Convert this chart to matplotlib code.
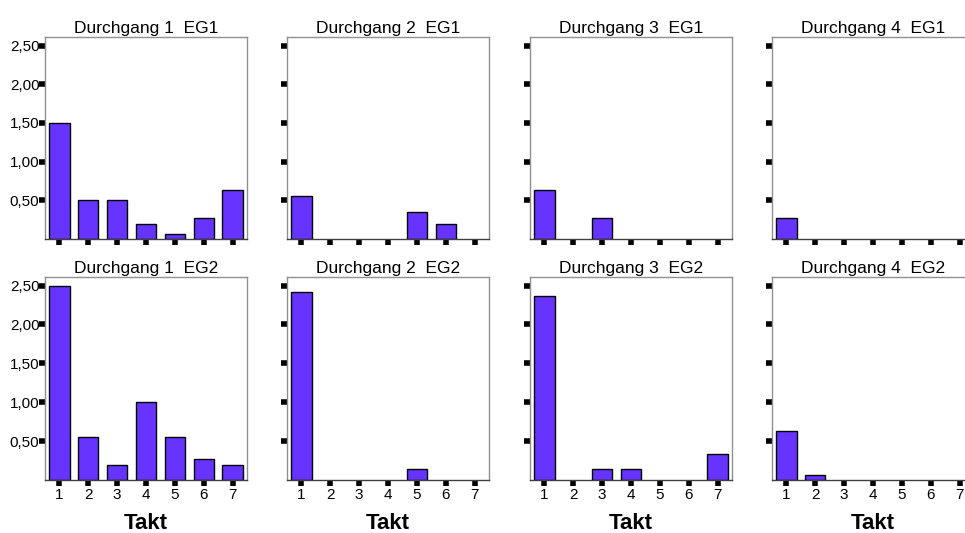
import matplotlib
matplotlib.use("Agg")
import matplotlib.pyplot as plt
import numpy as np

plt.rcParams["font.family"] = ["Liberation Sans", "DejaVu Sans"]

takt = [1, 2, 3, 4, 5, 6, 7]
durchgaenge = ["Durchgang 1", "Durchgang 2", "Durchgang 3", "Durchgang 4"]
gruppen = ["EG1", "EG2"]

# mean values per Takt
eg1 = [
    [1.50, 0.50, 0.50, 0.19, 0.06, 0.27, 0.63],
    [0.55, 0.00, 0.00, 0.00, 0.35, 0.19, 0.00],
    [0.63, 0.00, 0.27, 0.00, 0.00, 0.00, 0.00],
    [0.27, 0.00, 0.00, 0.00, 0.00, 0.00, 0.00],
]
eg2 = [
    [2.50, 0.55, 0.19, 1.00, 0.55, 0.27, 0.19],
    [2.42, 0.00, 0.00, 0.00, 0.14, 0.00, 0.00],
    [2.37, 0.00, 0.14, 0.14, 0.00, 0.00, 0.34],
    [0.63, 0.06, 0.00, 0.00, 0.00, 0.00, 0.00],
]
yticks = [0.5, 1.0, 1.5, 2.0, 2.5]
ytick_labels = ["0,50", "1,00", "1,50", "2,00", "2,50"]

W, H = 965, 533
fig = plt.figure(figsize=(W / 100, H / 100), dpi=100)

lefts = [45, 287, 530, 772]
rows = [(37, 239), (277, 480)]
bar_color = "#6633FF"

for r, (top, bottom) in enumerate(rows):
    data = eg1 if r == 0 else eg2
    for c, left in enumerate(lefts):
        ax = fig.add_axes([left / W, (H - bottom) / H, 202 / W, (bottom - top) / H])
        vals = np.array(data[c])
        x = np.array(takt)
        nz = vals > 0  # empty cells get no bar at all
        ax.bar(x[nz], vals[nz], width=0.7, color=bar_color, edgecolor="black",
               linewidth=1)
        ax.set_xlim(0.5, 7.5)
        ax.set_ylim(0, 2.61)
        ax.set_xticks(takt)
        ax.set_yticks(yticks)
        if c == 0:
            ax.set_yticklabels(ytick_labels, fontsize=11)
        else:
            ax.set_yticklabels([])
        if r == 1:
            ax.set_xticklabels([str(t) for t in takt], fontsize=11)
            ax.set_xlabel("Takt", fontsize=16, fontweight="bold", labelpad=8)
        else:
            ax.set_xticklabels([])
        ax.tick_params(axis="both", direction="out", length=4, width=4,
                       color="black", pad=0)
        ax.tick_params(axis="x", pad=2)
        for s in ["top", "right", "left"]:
            ax.spines[s].set_color("#909090")
            ax.spines[s].set_linewidth(1)
        ax.spines["bottom"].set_color("#404040")
        ax.spines["bottom"].set_linewidth(1)
        ax.set_title(f"{durchgaenge[c]}  {gruppen[r]}", fontsize=12.5, pad=3)

plt.savefig("out.png", dpi=100)
plt.close()
